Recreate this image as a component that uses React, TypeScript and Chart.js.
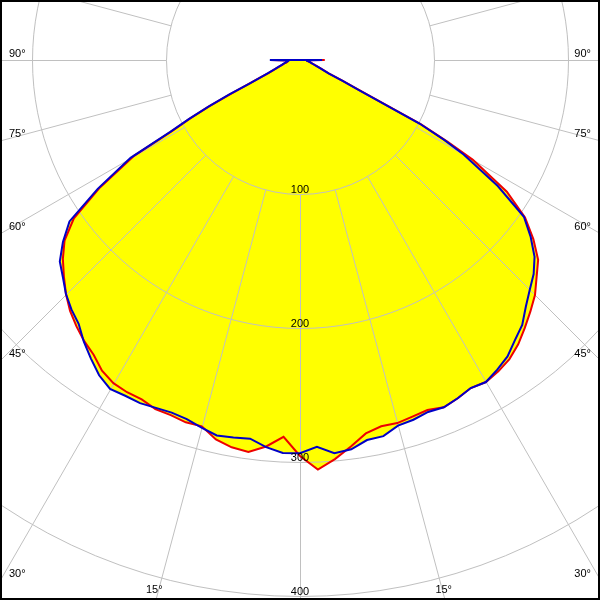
import React, { useEffect, useRef } from 'react';
import { Chart, registerables } from 'chart.js';

Chart.register(...registerables);

// Gamma angles (degrees from nadir; negative = left half-plane)
const GAMMA = [
  -95, -90, -87.5, -85, -82.5, -80, -77.5, -75, -72.5, -70, -67.5, -66, -65, -64, -63, -62, -61, -60,
  -57.5, -55, -52.5, -50, -47.5, -45, -42.5, -40, -37.5, -35, -32.5, -30, -27.5, -25, -22.5, -20, -17.5, -15, -12.5, -10, -7.5, -5, -2.5,
  0,
  2.5, 5, 7.5, 10, 12.5, 15, 17.5, 20, 22.5, 25, 27.5, 30, 32.5, 35, 37.5, 40, 42.5, 45, 47.5, 50, 52.5, 55, 57.5,
  60, 61, 62, 63, 64, 65, 66, 67.5, 70, 72.5, 75, 77.5, 80, 82.5, 85, 87.5, 90, 95,
];

// Luminous intensity (cd) – blue plane
const BLUE = [
  0, 22.5, 8.5, 9, 10, 11, 12.5, 14, 16.5, 20, 26.5, 34, 42, 59, 77, 94, 111, 146,
  179, 210, 223, 234, 240, 247, 252.5, 257, 265, 272, 279, 283.5, 282.5, 282.5, 281, 280, 281, 284, 287, 286, 285, 290, 293.5,
  293.5,
  289, 294.5, 293, 288, 287.5, 282.5, 281.5, 279.5, 280.5, 278.5, 276, 277.5, 274, 270, 263.5, 258, 249.5, 242.5, 236.5, 228.5, 217, 204, 175,
  141, 123, 101, 49, 35, 23.5, 20, 16.5, 12.5, 10.5, 8.8, 7.6, 6.7, 6, 5.5, 5, 16.5, 0,
];

// Luminous intensity (cd) – red plane
const RED = [
  0, 22, 8.5, 9, 9.5, 10.5, 12, 13.5, 16, 19.5, 25.5, 33, 41, 57.5, 75.5, 92.5, 109, 143,
  177, 206, 221.5, 231, 239, 247, 254, 259.5, 264.5, 268.5, 275, 278.5, 279.5, 279.5, 282, 282, 283.5, 283, 290, 293.5, 295, 289.5, 281.5,
  295.5,
  306, 299, 291, 283, 280, 280.5, 279, 278, 280.5, 278.5, 276, 277.5, 275.5, 272.5, 267.5, 261, 254.5, 248, 239.5, 232, 219.5, 205, 183,
  149, 126, 102, 50, 35.5, 24, 20.5, 17, 13, 10.5, 9, 7.6, 6.7, 6, 5.5, 5, 18.5, 0,
];

const RINGS = [100, 200, 300, 400, 500];
const RING_LABELS = [100, 200, 300, 400];
const SPOKES = [0, 15, 30, 45, 60, 75, 90, 105, 120, 135, 150, 165, 180, 195, 210, 225, 240, 255, 270, 285, 300, 315, 330, 345];
const ANGLE_LABELS = [90, 75, 60, 45, 30, 15];

// layout / style constants
const W = 600;
const H = 600;
const CX = 300;
const CY = 60;
const PX_PER_CD = 1.34;
const GRID = '#c0c0c0';
const FONT = '11px "Liberation Sans", Arial, sans-serif';

const rad = (d: number) => (d * Math.PI) / 180;
const toXY = (g: number, i: number) => ({ x: i * Math.sin(rad(g)), y: -i * Math.cos(rad(g)) });

const polarGrid = {
  id: 'polarGrid',
  beforeDraw(chart: any) {
    const { ctx } = chart;
    ctx.save();
    ctx.fillStyle = '#ffffff';
    ctx.fillRect(0, 0, chart.width, chart.height);
    ctx.restore();
  },
  beforeDatasetsDraw(chart: any) {
    const { ctx } = chart;
    const xs = chart.scales.x;
    const ys = chart.scales.y;
    const cx = xs.getPixelForValue(0);
    const cy = ys.getPixelForValue(0);
    const pix = (g: number, r: number) => {
      const p = toXY(g, r);
      return [xs.getPixelForValue(p.x), ys.getPixelForValue(p.y)];
    };
    ctx.save();
    ctx.translate(0.5, 0.5);
    ctx.strokeStyle = GRID;
    ctx.lineWidth = 1;
    for (const r of RINGS) {
      const rp = xs.getPixelForValue(r) - cx;
      ctx.beginPath();
      ctx.arc(cx, cy, rp, 0, Math.PI * 2);
      ctx.stroke();
    }
    for (const a of SPOKES) {
      const [x0, y0] = pix(a, RINGS[0]);
      const [x1, y1] = pix(a, 900);
      ctx.beginPath();
      ctx.moveTo(x0, y0);
      ctx.lineTo(x1, y1);
      ctx.stroke();
    }
    ctx.restore();
  },
  afterDatasetsDraw(chart: any) {
    const { ctx } = chart;
    const xs = chart.scales.x;
    const ys = chart.scales.y;
    const cx = xs.getPixelForValue(0);
    const cy = ys.getPixelForValue(0);
    const w = chart.width;
    const h = chart.height;
    ctx.save();
    ctx.font = FONT;
    ctx.fillStyle = '#000000';
    ctx.textBaseline = 'alphabetic';
    // intensity labels
    ctx.textAlign = 'center';
    for (const r of RING_LABELS) {
      const yp = ys.getPixelForValue(-r);
      ctx.fillText(String(r), cx, yp - 1);
    }
    // angle labels
    for (const a of ANGLE_LABELS) {
      for (const s of [-1, 1]) {
        const sn = Math.sin(rad(a));
        const cs = Math.cos(rad(a));
        const tSide = (s > 0 ? w - cx : cx) / sn;
        const tBot = cs > 1e-9 ? (h - cy) / cs : Infinity;
        const txt = a + '°';
        if (tSide <= tBot) {
          const y0 = cy + tSide * cs;
          ctx.textAlign = s < 0 ? 'left' : 'right';
          ctx.fillText(txt, s < 0 ? 9 : w - 9, y0 - 3);
        } else {
          const xb = cx + s * tBot * sn;
          ctx.textAlign = 'center';
          ctx.fillText(txt, xb - 1, h - 7);
        }
      }
    }
    // frame
    ctx.strokeStyle = '#000000';
    ctx.lineWidth = 4;
    ctx.strokeRect(0, 0, w, h);
    ctx.restore();
  },
};

export default function App() {
  const ref = useRef<HTMLCanvasElement>(null);
  useEffect(() => {
    if (!ref.current) return;
    const blueData = GAMMA.map((g, i) => toXY(g, BLUE[i]));
    const redData = GAMMA.map((g, i) => toXY(g, RED[i]));
    const chart = new Chart(ref.current, {
      type: 'line',
      data: {
        datasets: [
          {
            label: 'C90-C270',
            data: blueData,
            borderColor: '#0000c8',
            backgroundColor: '#ffff00',
            borderWidth: 2,
            pointRadius: 0,
            tension: 0,
            fill: 'shape',
          },
          {
            label: 'C0-C180',
            data: redData,
            borderColor: '#ee0000',
            backgroundColor: '#ffff00',
            borderWidth: 2,
            pointRadius: 0,
            tension: 0,
            fill: 'shape',
          },
        ],
      },
      options: {
        animation: false,
        responsive: false,
        maintainAspectRatio: false,
        layout: { padding: 0 },
        events: [],
        scales: {
          x: { type: 'linear', min: -CX / PX_PER_CD, max: (W - CX) / PX_PER_CD, display: false },
          y: { type: 'linear', min: -(H - CY) / PX_PER_CD, max: CY / PX_PER_CD, display: false },
        },
        plugins: {
          legend: { display: false },
          tooltip: { enabled: false },
          filler: { drawTime: 'beforeDatasetsDraw' },
        },
      } as any,
      plugins: [polarGrid],
    });
    return () => chart.destroy();
  }, []);
  return (
    <div style={{ position: 'fixed', left: 0, top: 0, width: W, height: H }}>
      <canvas ref={ref} width={W} height={H} style={{ width: W, height: H, display: 'block' }} />
    </div>
  );
}
